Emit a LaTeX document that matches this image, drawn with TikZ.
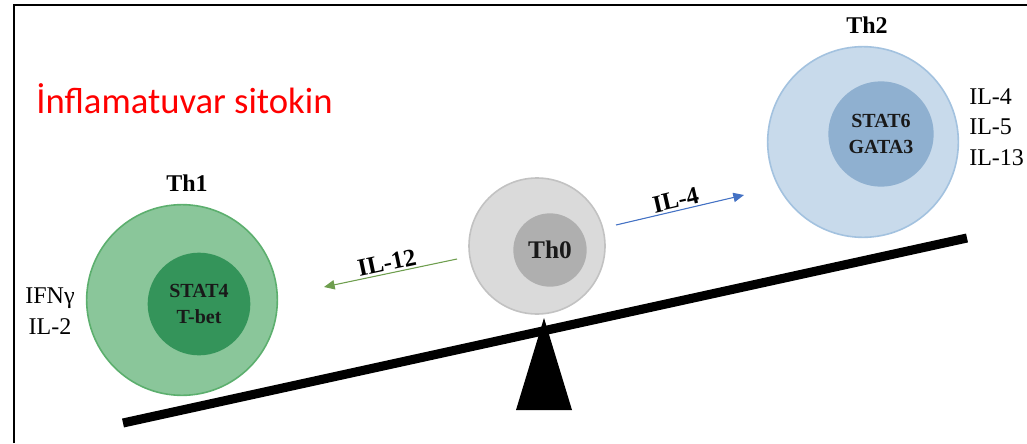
\documentclass[tikz,border=0pt]{standalone}
\usepackage{fontspec}
\setmainfont{Liberation Serif}
\newfontfamily\calibrifont{Carlito}
\usetikzlibrary{arrows.meta}
\definecolor{thoneout}{HTML}{8AC69A}
\definecolor{thoneedge}{HTML}{5CAF6E}
\definecolor{thonein}{HTML}{34945A}
\definecolor{thzeroout}{HTML}{DADADA}
\definecolor{thzeroedge}{HTML}{C2C2C2}
\definecolor{thzeroin}{HTML}{AFAFAF}
\definecolor{thtwoout}{HTML}{C8DAEB}
\definecolor{thtwoedge}{HTML}{A3C2DF}
\definecolor{thtwoin}{HTML}{8FB0D0}
\definecolor{arrowgreen}{HTML}{6E9E4E}
\definecolor{arrowblue}{HTML}{4472C4}
\begin{document}
\begin{tikzpicture}[x=0.75pt,y=-0.75pt,
  cell/.style={circle,draw,line width=1.2pt,inner sep=0pt},
  core/.style={circle,inner sep=0pt,font=\bfseries\fontsize{15}{20}\selectfont,align=center,text=black!90},
  title/.style={font=\bfseries\fontsize{18}{20}\selectfont},
  cyto/.style={font=\fontsize{18}{23}\selectfont,align=left,inner sep=0pt},
  sig/.style={font=\bfseries\fontsize{18.5}{20}\selectfont,inner sep=1.5pt,anchor=south},
  sigarrow/.style={line width=0.8pt,-{Triangle[length=8pt,width=7pt]}}
]
\useasboundingbox (0,0) rectangle (1027,443);
% frame
\draw[line width=1.5pt] (14,443) -- (14,5) -- (1027,5);
% title
\node[anchor=base west,inner sep=0pt,text=red,font=\calibrifont\fontsize{27.5}{30}\selectfont] (infl) at (36,113) {İnflamatuvar sitokin};
% seesaw
\coordinate (beamL) at (123,423);
\coordinate (beamR) at (967,238);
\coordinate (apex) at (544,318);
\coordinate (baseL) at (516,410);
\coordinate (baseR) at (572,410);
\fill[black] (apex) -- (baseL) -- (baseR) -- cycle;
\draw[line width=6.8pt] (beamL) -- (beamR);
% Th1
\node[cell,fill=thoneout,draw=thoneedge,minimum size=143pt] (th1) at (182,300) {};
\node[core,fill=thonein,minimum size=77pt] (th1c) at (199,304) {STAT4\\T-bet};
\node[title] (th1t) at (187,183) {Th1};
\node[cyto,align=center] (th1cy) at (50,311) {IFNγ\\IL-2};
% Th0
\node[cell,fill=thzeroout,draw=thzeroedge,minimum size=102pt] (th0) at (537,246) {};
\node[core,fill=thzeroin,minimum size=55pt,font=\bfseries\fontsize{19}{20}\selectfont] (th0c) at (550,250) {Th0};
% Th2
\node[cell,fill=thtwoout,draw=thtwoedge,minimum size=143pt] (th2) at (863,142) {};
\node[core,fill=thtwoin,minimum size=79pt] (th2c) at (881,134) {STAT6\\GATA3};
\node[title] (th2t) at (867,25) {Th2};
\node[cyto,anchor=west] (th2cy) at (969,127) {IL-4\\IL-5\\IL-13};
% signals
\coordinate (a12s) at (457,259);
\coordinate (a12e) at (324,287);
\draw[sigarrow,draw=arrowgreen,fill=arrowgreen] (a12s) -- (a12e);
\node[sig,rotate=12] (il12) at (389,273) {IL-12};
\coordinate (a4s) at (616,225);
\coordinate (a4e) at (744,195);
\draw[sigarrow,draw=arrowblue,fill=arrowblue] (a4s) -- (a4e);
\node[sig,rotate=13] (il4) at (678,210) {IL-4};
\end{tikzpicture}
\end{document}
